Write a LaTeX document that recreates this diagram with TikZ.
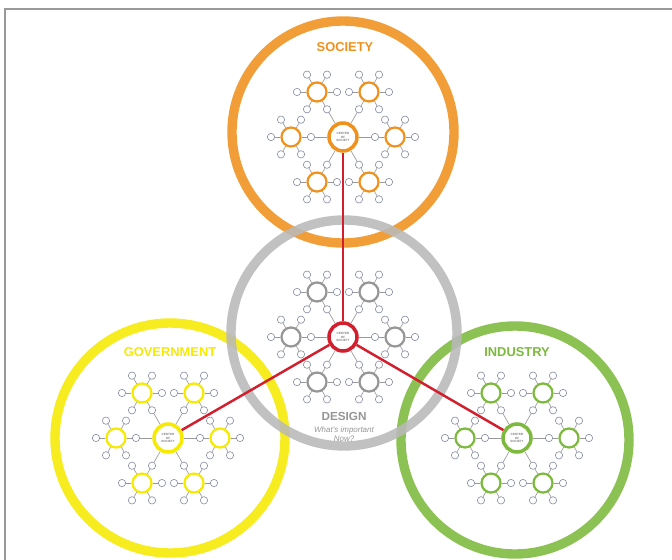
\documentclass[tikz,border=0pt]{standalone}
\usepackage{xcolor}
\usepackage{fontspec}
\setmainfont{Liberation Sans}
\usepackage{tikz}
\usetikzlibrary{calc, positioning}

\definecolor{socorange}{RGB}{240,145,30}
\definecolor{desgray}{RGB}{185,185,185}
\definecolor{satgray}{RGB}{150,150,150}
\definecolor{govyellow}{RGB}{246,234,0}
\definecolor{indgreen}{RGB}{125,185,60}
\definecolor{linkred}{RGB}{210,30,45}
\definecolor{dotblue}{RGB}{130,138,160}

\tikzset{
	ring/.style={draw=#1, circle, line width=8pt, opacity=0.88, inner sep=0pt},
	hub/.style={draw=#1, circle, fill=white, line width=3pt, minimum size=0.84cm, inner sep=0pt, align=center, text=gray, font=\fontsize{2.6}{2.9}\selectfont\bfseries},
	sat/.style={draw=#1, circle, fill=white, line width=1.9pt, minimum size=0.57cm, inner sep=0pt},
	dot/.style={draw=dotblue, circle, fill=white, line width=0.5pt, minimum size=0.22cm, inner sep=0pt},
	spoke/.style={draw=gray!80, line width=0.55pt},
	title/.style={text=#1, font=\fontsize{11}{12}\selectfont\bfseries},
	link/.style={draw=linkred, line width=2.1pt}
}

% one hub with its six satellites
\newcommand{\hubcluster}[4]{%
	\node[hub=#3] (#1c) at (#2) {CENTER\\OF\\SOCIETY};
	\foreach \a [evaluate=\a as \c using {int(mod(\a+180,360))}] in {0,60,...,300} {
		\node[sat=#4] (#1s\a) at ($(#1c)+(\a:52)$) {};
		\foreach \b in {0,60,...,300} {
			\node[dot] (#1t\a-\b) at ($(#1s\a)+(\b:20)$) {};
			\draw[spoke] (#1s\a) -- (#1t\a-\b);
		}
		\draw[spoke] (#1c) -- (#1t\a-\c);
	}
}

\begin{document}
\begin{tikzpicture}[x=0.03cm, y=-0.03cm, thick]
	\useasboundingbox (0,0) rectangle (672,560);
	\fill[white] (0,0) rectangle (672,560);
	\draw[gray!80, line width=1.2pt] (5,560) -- (5,9) -- (672,9);

	% the four rings
	\node[ring=socorange, minimum size=6.66cm] (socring) at (343,132) {};
	\node[ring=govyellow, minimum size=6.9cm] (govring) at (170,438) {};
	\node[ring=indgreen, minimum size=6.84cm] (indring) at (515,440) {};
	\node[ring=desgray, minimum size=6.78cm] (desring) at (344,333) {};

	\node[title=socorange] (soclabel) at (345,47) {SOCIETY};
	\node[title=govyellow] (govlabel) at (170,352) {GOVERNMENT};
	\node[title=indgreen] (indlabel) at (517,352) {INDUSTRY};
	\node[text=satgray, font=\fontsize{10}{11}\selectfont\bfseries] (deslabel) at (344,416) {DESIGN};
	\node[text=satgray, font=\fontsize{6.8}{7.6}\itshape, align=center, below=-2pt of deslabel] (desq) {What's important\\Now?};

	\hubcluster{soc}{343,137}{socorange}{socorange}
	\hubcluster{gov}{168,438}{govyellow}{govyellow}
	\hubcluster{ind}{517,438}{indgreen}{indgreen}
	\hubcluster{des}{343,337}{linkred}{satgray}

	\draw[link] (desc) -- (socc);
	\draw[link] (desc) -- (govc);
	\draw[link] (desc) -- (indc);
\end{tikzpicture}
\end{document}
